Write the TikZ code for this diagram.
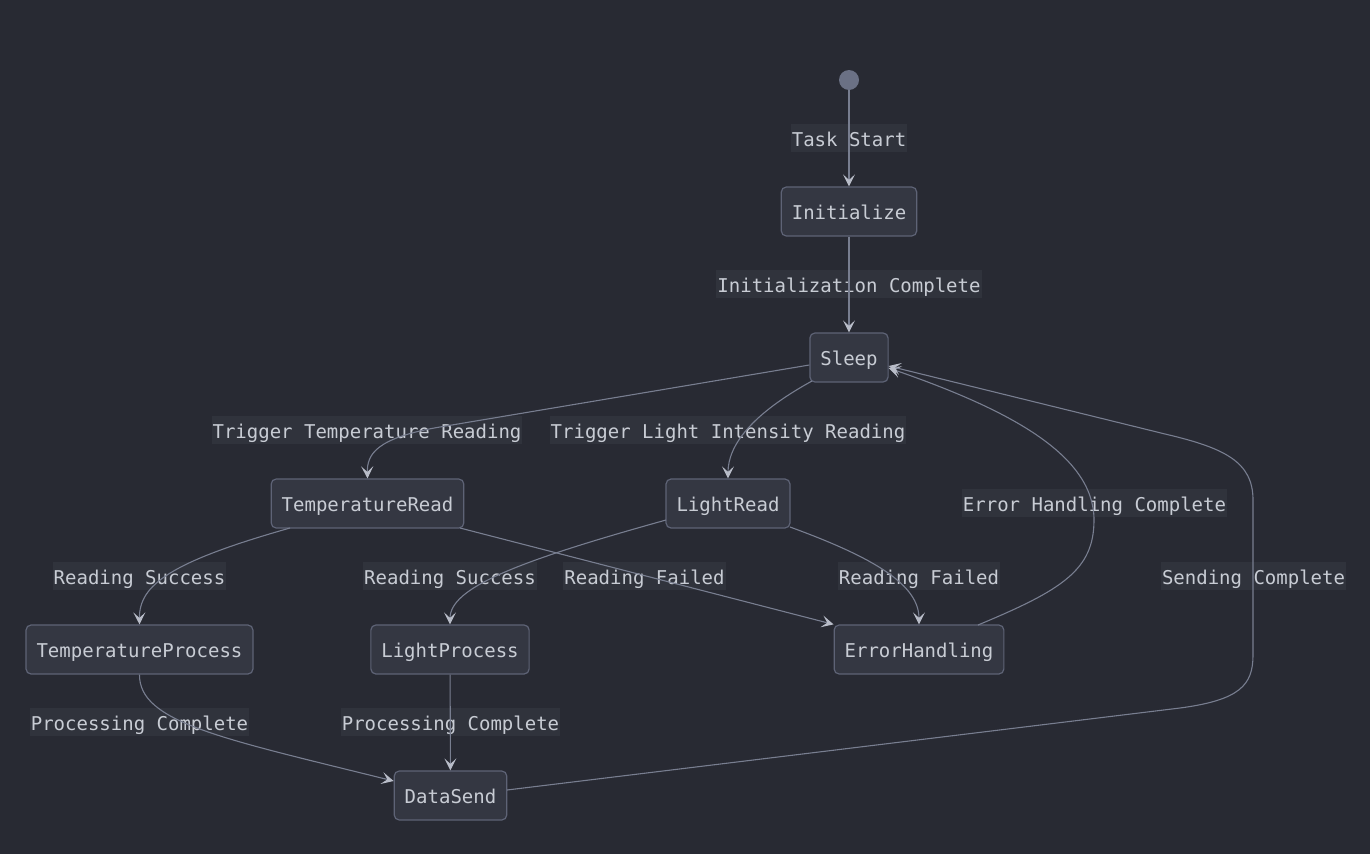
\documentclass[tikz,border=0pt]{standalone}
\usepackage{fontspec}
\setmonofont{DejaVu Sans Mono}
\usetikzlibrary{arrows.meta}
\definecolor{bgc}{HTML}{282A33}
\definecolor{nodefill}{HTML}{343742}
\definecolor{nodeline}{HTML}{5E6376}
\definecolor{txt}{HTML}{C8CCD4}
\definecolor{lblbg}{HTML}{30333C}
\definecolor{edgec}{HTML}{787E90}
\definecolor{tipc}{HTML}{B8BCC8}
\definecolor{startc}{HTML}{6B7185}
\tikzset{
  state/.style={draw=nodeline, fill=nodefill, rounded corners=5pt, line width=1.2pt,
    minimum height=49pt, inner xsep=10.5pt, inner ysep=0pt, text=txt,
    text height=16pt, text depth=0pt,
    font=\ttfamily\fontsize{19}{22}\selectfont},
  lbl/.style={fill=lblbg, text=txt, inner xsep=1pt, inner ysep=0pt, minimum height=28pt,
    text height=16pt, text depth=0pt,
    font=\ttfamily\fontsize{19}{22}\selectfont},
  edge/.style={draw=edgec, line width=1.1pt,
    -{Stealth[length=12pt, width=12pt, inset=5.5pt, color=tipc]}},
}
\begin{document}
\begin{tikzpicture}[x=1pt,y=-1pt]
\useasboundingbox (0,0) rectangle (1370,854);
\fill[bgc] (0,0) rectangle (1370,854);

% labels
\node[lbl] (l1) at (849,138) {Task Start};
\node[lbl] (l2) at (849,284) {Initialization Complete};
\node[lbl] (l3) at (367,430) {Trigger Temperature Reading};
\node[lbl] (l4) at (728,430) {Trigger Light Intensity Reading};
\node[lbl] (l5) at (139.5,576) {Reading Success};
\node[lbl] (l6) at (450,576) {Reading Success};
\node[lbl] (l7) at (644.5,576) {Reading Failed};
\node[lbl] (l8) at (919,576) {Reading Failed};
\node[lbl] (l9) at (1094.5,503) {Error Handling Complete};
\node[lbl] (l10) at (1253.5,576) {Sending Complete};
\node[lbl] (l11) at (139.5,722) {Processing Complete};
\node[lbl] (l12) at (450.5,722) {Processing Complete};

% states
\node[circle, fill=startc, minimum size=20pt, inner sep=0pt] (start) at (849,80) {};
\node[state] (init) at (849,211.5) {Initialize};
\node[state] (sleep) at (849,357.5) {Sleep};
\node[state] (tr) at (367.5,503.5) {TemperatureRead};
\node[state] (lr) at (728,503.5) {LightRead};
\node[state] (tp) at (139.5,649.5) {TemperatureProcess};
\node[state] (lp) at (450,649.5) {LightProcess};
\node[state] (eh) at (919,649.5) {ErrorHandling};
\node[state] (ds) at (450.5,795.5) {DataSend};

% edges
\draw[edge] (start) -- (init);
\draw[edge] (init) -- (sleep);
\draw[edge] (sleep.west |- 0,365) -- (440,427) .. controls (375,438) and (367,455) .. (tr.north);
\draw[edge] (812,381) .. controls (752,414) and (728,445) .. (lr.north);
\draw[edge] (290,528) .. controls (170,562) and (139,585) .. (tp.north);
\draw[edge] (460,528) -- (eh.north west);
\draw[edge] (666,520) .. controls (515,562) and (450,588) .. (lp.north);
\draw[edge] (790,527) .. controls (875,558) and (919,585) .. (eh.north);
\draw[edge] (tp.south) .. controls (139,722) and (220,738) .. (ds.west |- 0,781);
\draw[edge] (lp) -- (ds);
\draw[edge] (978,625) .. controls (1062,590) and (1094,570) .. (1094,520)
   .. controls (1094,455) and (1010,410) .. (sleep.east |- 0,368);
\draw[edge] (507,790) -- (1180,708) .. controls (1240,700) and (1253,685) .. (1253,655)
   -- (1253,500) .. controls (1253,462) and (1225,448) .. (1165,434) -- (sleep.east |- 0,366);
\end{tikzpicture}
\end{document}
